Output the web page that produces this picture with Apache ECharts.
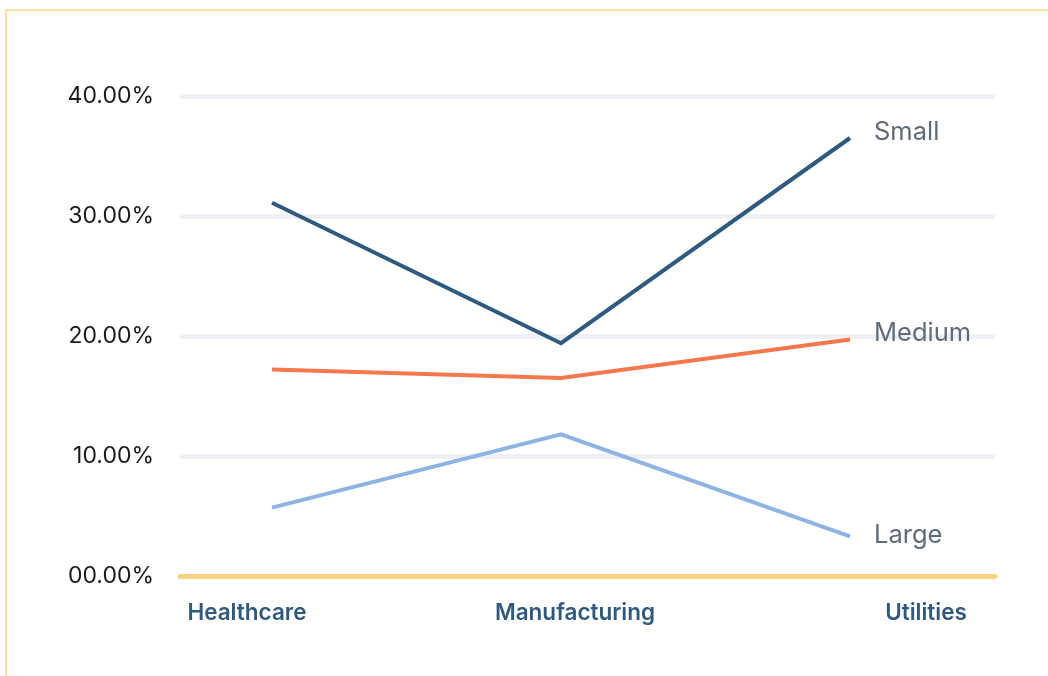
<!DOCTYPE html>
<html>
<head>
<meta charset="utf-8">
<script src="https://cdn.jsdelivr.net/npm/echarts@6/dist/echarts.min.js"></script>
<style>
  html, body { margin: 0; padding: 0; background: #ffffff; }
  #frame { position: absolute; left: 5px; top: 9px; width: 1043px; height: 667px;
           border-top: 2px solid #fbe3a6; border-left: 2px solid #fbe3a6; box-sizing: border-box; }
  #chart { position: absolute; left: 0; top: 0; width: 1048px; height: 676px; }
</style>
</head>
<body>
<div id="frame"></div>
<div id="chart"></div>
<script>
const categories = ['Healthcare', 'Manufacturing', 'Utilities'];
const seriesNames = ['Small', 'Medium', 'Large'];
const smallValues = [31.1, 19.4, 36.5];
const mediumValues = [17.2, 16.5, 19.7];
const largeValues = [5.7, 11.8, 3.3];
const yTicks = [0, 10, 20, 30, 40];

const colors = { Small: '#2e5a80', Medium: '#f4784c', Large: '#8db4e2' };
const endOffsets = { Small: [0, -6], Medium: [0, -6], Large: [0, -1] };
const labelShift = { Healthcare: [0, 50, 0, 0], Manufacturing: [0, 0, 0, 28], Utilities: [0, 0, 0, 152] };

const chart = echarts.init(document.getElementById('chart'), null, { renderer: 'canvas' });

function fmtPct(v) { return (v < 10 ? '0' : '') + v.toFixed(2) + '%'; }

const rich = {};
categories.forEach((c, i) => {
  rich['c' + i] = { fontFamily: 'Inter', fontWeight: 600, fontSize: 22.5, color: '#30597e', padding: labelShift[c] };
});

function mkSeries(name, values) {
  return {
    name: name, type: 'line', xAxisIndex: 1, yAxisIndex: 1,
    data: values, symbol: 'none', smooth: false,
    lineStyle: { color: colors[name], width: 4, cap: 'butt', join: 'miter' },
    itemStyle: { color: colors[name] },
    endLabel: { show: true, formatter: '{a}', color: '#5f6b78', fontFamily: 'Inter', fontSize: 25.5, distance: 24, offset: endOffsets[name] },
    animation: false
  };
}

chart.setOption({
  animation: false,
  grid: [
    { left: 180, right: 53, top: 96, bottom: 100 },
    { left: 272, right: 198, top: 96, bottom: 100 }
  ],
  xAxis: [
    { type: 'category', gridIndex: 0, data: categories, boundaryGap: false,
      axisLine: { show: true, lineStyle: { color: '#fdd27c', width: 5 } },
      axisTick: { show: false }, axisLabel: { show: false }, splitLine: { show: false } },
    { type: 'category', gridIndex: 1, data: categories, boundaryGap: false,
      axisLine: { show: false }, axisTick: { show: false }, splitLine: { show: false },
      axisLabel: { show: true, interval: 0, margin: 26,
        formatter: function (v, i) { return '{c' + i + '|' + v + '}'; }, rich: rich } }
  ],
  yAxis: [
    { type: 'value', gridIndex: 0, min: yTicks[0], max: yTicks[yTicks.length - 1], interval: 10,
      axisLine: { show: false }, axisTick: { show: false },
      splitLine: { show: true, lineStyle: { color: '#edf0f5', width: 5 } },
      axisLabel: { show: true, margin: 26, formatter: fmtPct, color: '#1a1a1a', fontFamily: 'Inter', fontSize: 23 } },
    { type: 'value', gridIndex: 1, min: yTicks[0], max: yTicks[yTicks.length - 1], interval: 10,
      show: false, splitLine: { show: false } }
  ],
  series: [
    mkSeries(seriesNames[0], smallValues),
    mkSeries(seriesNames[1], mediumValues),
    mkSeries(seriesNames[2], largeValues)
  ]
});
</script>
</body>
</html>
